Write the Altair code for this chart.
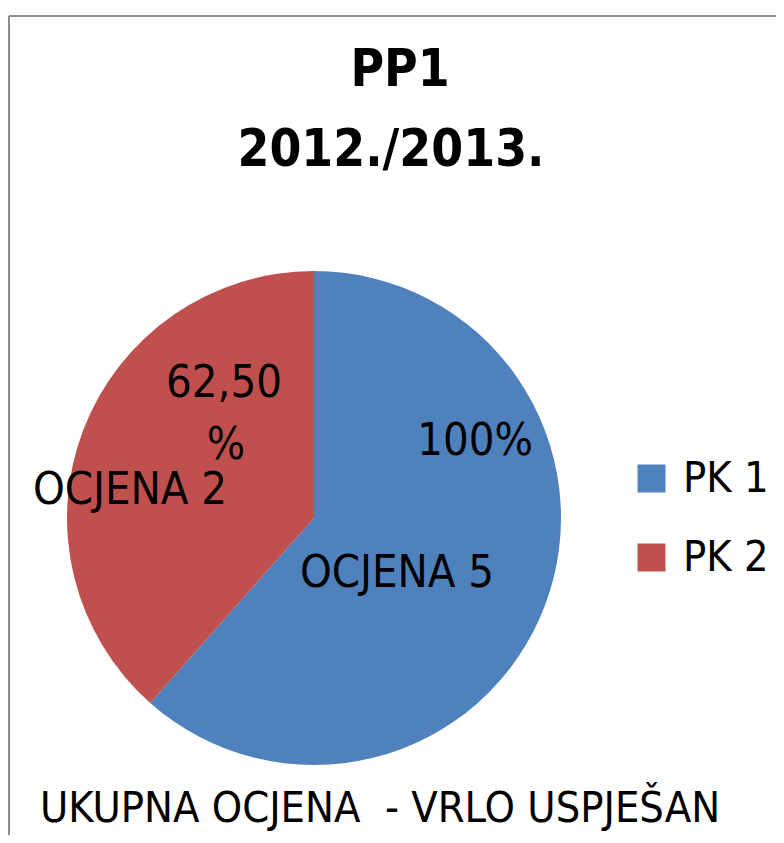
import altair as alt
import pandas as pd

# ---- data ----
categories = ["PK 1", "PK 2"]
values = [100, 62.5]
value_labels = ["100%", "62,50 %"]
grade_labels = ["OCJENA 5", "OCJENA 2"]
colors = ["#4F81BD", "#C0504D"]
title_lines = ["PP1", "2012./2013."]
footer = "UKUPNA OCJENA  - VRLO USPJEŠAN"

W, H = 768, 827
FONT = "DejaVu Sans Condensed, sans-serif"
FS = 45

df = pd.DataFrame({"cat": categories, "val": values, "ord": [0, 1]})

color_scale = alt.Scale(domain=categories, range=colors)

pie = alt.Chart(df).mark_arc(radius=247, stroke=None).encode(
    theta=alt.Theta("val:Q", stack=True),
    color=alt.Color(
        "cat:N",
        scale=color_scale,
        legend=alt.Legend(
            title=None,
            orient="none",
            legendX=622,
            legendY=449,
            symbolType="square",
            symbolSize=784,
            symbolStrokeWidth=0,
            labelFontSize=43,
            labelFont=FONT,
            labelColor="black",
            labelLimit=300,
            rowPadding=35,
            labelOffset=10,
            padding=0,
        ),
    ),
    order=alt.Order("ord:Q"),
    x=alt.value(306),
    y=alt.value(510),
)

def txt(text, x, y, size=FS, bold=False):
    return alt.Chart(pd.DataFrame({"t": [text.replace("  ", " \u00a0")]})).mark_text(
        font=FONT, fontSize=size, fontWeight="bold" if bold else "normal",
        color="black", align="center", baseline="middle"
    ).encode(text="t:N", x=alt.value(x), y=alt.value(y))

pct_parts = value_labels[1].split(" ")
layers = [
    pie,
    txt(value_labels[0], 467, 433),
    txt(grade_labels[0], 389, 565),
    txt(pct_parts[0], 216, 375),
    txt(pct_parts[1], 218, 437),
    txt(grade_labels[1], 122, 482),
    txt(title_lines[0], 392, 63, size=51, bold=True),
    txt(title_lines[1], 383, 143, size=51, bold=True),
    txt(footer, 372, 801, size=43),
]

border_v = alt.Chart(pd.DataFrame({"a": [0]})).mark_rule(color="#8c8c8c", strokeWidth=2).encode(
    x=alt.value(1), y=alt.value(8), y2=alt.value(H)
)
border_h = alt.Chart(pd.DataFrame({"a": [0]})).mark_rule(color="#8c8c8c", strokeWidth=2).encode(
    x=alt.value(1), x2=alt.value(W), y=alt.value(8)
)

chart = alt.layer(border_v, border_h, *layers).properties(
    width=W, height=H,
    autosize=alt.AutoSizeParams(type="none"),
    padding=0,
    background="white",
).configure_view(stroke=None)

chart.save("out.html", embed_options={"renderer": "svg", "actions": False})
